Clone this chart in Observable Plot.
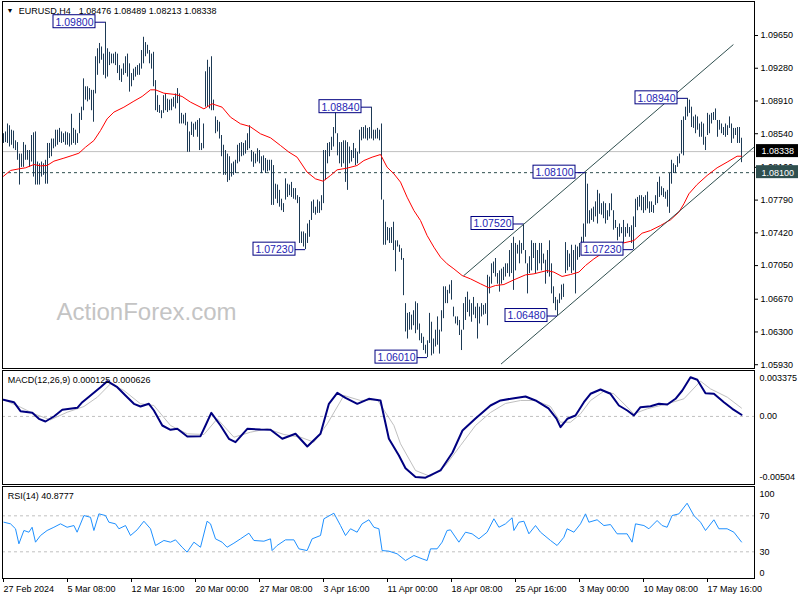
<!DOCTYPE html>
<html><head><meta charset="utf-8">
<script src="https://cdn.jsdelivr.net/npm/d3@7"></script>
<script src="https://cdn.jsdelivr.net/npm/@observablehq/plot@0.6"></script>
<style>
html,body{margin:0;padding:0;background:#fff;}
#chart{position:relative;width:800px;height:600px;overflow:hidden;background:#fff;}
#chart svg{position:absolute;left:0;}
</style></head><body><div id="chart"></div>
<script>
// ---------- DATA ----------
const symbol = "EURUSD,H4";
const ohlcText = "1.08476 1.08489 1.08213 1.08338";
const lastClose = 1.08338;
const keyLevel = 1.081;
const priceTicks = [1.0593, 1.0630, 1.0667, 1.0705, 1.0742, 1.0779, 1.0816, 1.0854, 1.0891, 1.0928, 1.0965];
const dateIdx = [0, 32, 64, 96, 128, 160, 192, 224, 256, 288, 320, 352];
const dateLabels = ["27 Feb 2024", "5 Mar 08:00", "12 Mar 16:00", "20 Mar 00:00", "27 Mar 08:00", "3 Apr 16:00", "11 Apr 00:00", "18 Apr 08:00", "25 Apr 16:00", "3 May 00:00", "10 May 08:00", "17 May 16:00"];

const highs = [
1.0854,1.0856,1.0865,1.0863,1.0858,1.0857,1.0846,1.0844,1.0831,1.0831,
1.0844,1.0841,1.0835,1.0835,1.0852,1.0855,1.0856,1.0822,1.0820,1.0822,
1.0820,1.0824,1.0843,1.0843,1.0848,1.0848,1.0858,1.0858,1.0860,1.0856,
1.0854,1.0856,1.0855,1.0854,1.0876,1.0860,1.0858,1.0854,1.0877,1.0884,
1.0916,1.0907,1.0907,1.0905,1.0903,1.0903,1.0941,1.0950,1.0956,1.0952,
1.0944,1.0980,1.0950,1.0946,1.0944,1.0944,1.0946,1.0944,1.0931,1.0927,
1.0933,1.0941,1.0944,1.0933,1.0922,1.0927,1.0929,1.0931,1.0933,1.0948,
1.0963,1.0957,1.0954,1.0948,1.0944,1.0946,1.0914,1.0897,1.0886,1.0880,
1.0897,1.0899,1.0893,1.0892,1.0893,1.0895,1.0899,1.0905,1.0899,1.0877,
1.0875,1.0877,1.0867,1.0856,1.0867,1.0865,1.0867,1.0869,1.0871,1.0843,
1.0865,1.0924,1.0937,1.0929,1.0941,1.0892,1.0873,1.0869,1.0867,1.0852,
1.0841,1.0835,1.0831,1.0828,1.0820,1.0822,1.0824,1.0841,1.0843,1.0844,
1.0843,1.0846,1.0854,1.0863,1.0835,1.0833,1.0831,1.0837,1.0835,1.0828,
1.0829,1.0826,1.0824,1.0824,1.0824,1.0818,1.0797,1.0796,1.0790,1.0780,
1.0775,1.0803,1.0797,1.0796,1.0799,1.0792,1.0792,1.0784,1.0782,1.0743,
1.0743,1.0741,1.0752,1.0756,1.0777,1.0779,1.0771,1.0779,1.0777,1.0784,
1.0835,1.0835,1.0843,1.0844,1.0850,1.0861,1.0878,1.0854,1.0844,1.0844,
1.0846,1.0846,1.0844,1.0839,1.0835,1.0843,1.0837,1.0833,1.0858,1.0861,
1.0861,1.0863,1.0860,1.0861,1.0884,1.0858,1.0858,1.0860,1.0858,1.0865,
1.0779,1.0754,1.0748,1.0747,1.0748,1.0754,1.0733,1.0733,1.0728,1.0724,
1.0713,1.0662,1.0651,1.0652,1.0649,1.0654,1.0664,1.0662,1.0639,1.0628,
1.0624,1.0615,1.0620,1.0651,1.0641,1.0622,1.0632,1.0647,1.0632,1.0654,
1.0681,1.0681,1.0677,1.0683,1.0688,1.0658,1.0647,1.0647,1.0643,1.0632,
1.0662,1.0669,1.0675,1.0666,1.0662,1.0669,1.0658,1.0662,1.0658,1.0662,
1.0660,1.0662,1.0694,1.0692,1.0707,1.0709,1.0713,1.0696,1.0699,1.0701,
1.0703,1.0707,1.0707,1.0722,1.0730,1.0737,1.0730,1.0728,1.0733,1.0730,
1.0752,1.0722,1.0707,1.0715,1.0733,1.0730,1.0730,1.0722,1.0730,1.0730,
1.0718,1.0711,1.0722,1.0733,1.0707,1.0681,1.0669,1.0666,1.0673,1.0683,
1.0684,1.0731,1.0722,1.0718,1.0728,1.0722,1.0728,1.0726,1.0730,1.0737,
1.0752,1.0810,1.0797,1.0767,1.0769,1.0771,1.0777,1.0790,1.0786,1.0775,
1.0777,1.0775,1.0767,1.0775,1.0786,1.0767,1.0756,1.0748,1.0752,1.0748,
1.0756,1.0748,1.0752,1.0748,1.0750,1.0760,1.0780,1.0782,1.0784,1.0784,
1.0782,1.0784,1.0788,1.0777,1.0777,1.0773,1.0784,1.0799,1.0805,1.0794,
1.0792,1.0788,1.0790,1.0809,1.0824,1.0820,1.0818,1.0828,1.0831,1.0869,
1.0873,1.0884,1.0894,1.0892,1.0884,1.0873,1.0875,1.0873,1.0865,1.0867,
1.0865,1.0850,1.0877,1.0875,1.0877,1.0878,1.0882,1.0869,1.0869,1.0865,
1.0861,1.0865,1.0863,1.0873,1.0865,1.0860,1.0860,1.0861,1.0861,1.08489];

const lows = [
1.0843,1.0844,1.0843,1.0839,1.0841,1.0837,1.0835,1.0824,1.0796,1.0816,
1.0816,1.0824,1.0824,1.0816,1.0822,1.0805,1.0796,1.0796,1.0796,1.0805,
1.0807,1.0797,1.0797,1.0826,1.0828,1.0837,1.0839,1.0841,1.0844,1.0843,
1.0844,1.0841,1.0841,1.0839,1.0841,1.0843,1.0841,1.0843,1.0854,1.0869,
1.0880,1.0892,1.0890,1.0892,1.0880,1.0867,1.0899,1.0920,1.0933,1.0937,
1.0920,1.0916,1.0918,1.0931,1.0933,1.0933,1.0931,1.0922,1.0914,1.0912,
1.0920,1.0922,1.0918,1.0901,1.0907,1.0914,1.0918,1.0920,1.0920,1.0927,
1.0933,1.0941,1.0944,1.0933,1.0927,1.0907,1.0880,1.0878,1.0877,1.0871,
1.0877,1.0880,1.0878,1.0880,1.0880,1.0884,1.0882,1.0888,1.0865,1.0865,
1.0865,1.0863,1.0833,1.0833,1.0852,1.0850,1.0858,1.0850,1.0835,1.0835,
1.0837,1.0884,1.0884,1.0882,1.0880,1.0880,1.0854,1.0856,1.0848,1.0828,
1.0807,1.0807,1.0799,1.0801,1.0805,1.0807,1.0809,1.0820,1.0822,1.0828,
1.0829,1.0831,1.0835,1.0837,1.0822,1.0816,1.0820,1.0822,1.0820,1.0809,
1.0812,1.0809,1.0811,1.0812,1.0773,1.0773,1.0780,1.0775,1.0771,1.0767,
1.0765,1.0779,1.0782,1.0784,1.0782,1.0780,1.0779,1.0775,1.0730,1.0730,
1.0726,1.0723,1.0730,1.0737,1.0756,1.0764,1.0762,1.0764,1.0764,1.0767,
1.0775,1.0801,1.0820,1.0828,1.0835,1.0839,1.0854,1.0829,1.0820,1.0816,
1.0820,1.0799,1.0790,1.0820,1.0822,1.0826,1.0818,1.0820,1.0831,1.0846,
1.0848,1.0848,1.0846,1.0848,1.0848,1.0846,1.0848,1.0848,1.0846,1.0779,
1.0728,1.0728,1.0733,1.0730,1.0730,1.0722,1.0698,1.0726,1.0720,1.0711,
1.0671,1.0630,1.0622,1.0632,1.0632,1.0637,1.0628,1.0632,1.0620,1.0617,
1.0609,1.0605,1.0601,1.0617,1.0603,1.0605,1.0613,1.0615,1.0605,1.0630,
1.0645,1.0662,1.0662,1.0673,1.0666,1.0647,1.0639,1.0637,1.0626,1.0609,
1.0632,1.0643,1.0652,1.0647,1.0641,1.0649,1.0645,1.0622,1.0639,1.0647,
1.0649,1.0650,1.0637,1.0673,1.0684,1.0696,1.0692,1.0684,1.0675,1.0684,
1.0688,1.0692,1.0696,1.0692,1.0696,1.0677,1.0699,1.0718,1.0707,1.0718,
1.0722,1.0707,1.0673,1.0696,1.0699,1.0713,1.0696,1.0699,1.0707,1.0699,
1.0707,1.0684,1.0696,1.0692,1.0673,1.0662,1.0654,1.0648,1.0662,1.0666,
1.0669,1.0696,1.0699,1.0703,1.0696,1.0699,1.0673,1.0711,1.0714,1.0722,
1.0726,1.0737,1.0752,1.0752,1.0756,1.0754,1.0760,1.0752,1.0763,1.0762,
1.0758,1.0752,1.0756,1.0760,1.0767,1.0745,1.0747,1.0733,1.0737,1.0741,
1.0730,1.0737,1.0741,1.0737,1.0730,1.0723,1.0748,1.0767,1.0771,1.0767,
1.0764,1.0767,1.0769,1.0764,1.0765,1.0764,1.0773,1.0775,1.0782,1.0784,
1.0782,1.0780,1.0771,1.0764,1.0797,1.0809,1.0809,1.0816,1.0820,1.0831,
1.0829,1.0869,1.0873,1.0877,1.0861,1.0860,1.0854,1.0858,1.0850,1.0850,
1.0841,1.0835,1.0852,1.0854,1.0865,1.0869,1.0869,1.0850,1.0858,1.0854,
1.0852,1.0850,1.0852,1.0860,1.0843,1.0848,1.0852,1.0843,1.0843,1.08213];

// moving average (bar index, price)
const maPts = [[0,1.0806],[3.5,1.08125],[7.7,1.08143],[11,1.08155],[15.2,1.08192],[18.5,1.08177],[21.8,1.08181],[25.2,1.0823],[30.2,1.08264],[34.3,1.08294],[37.7,1.0832],[41,1.08388],[45.2,1.08463],[48.5,1.08576],[51.8,1.08708],[55.2,1.08784],[60.2,1.0884],[65.2,1.08908],[69.3,1.08961],[73.5,1.09036],[76,1.09036],[80.2,1.08998],[86,1.08983],[89.3,1.08961],[93.5,1.08897],[100.2,1.08821],[104.3,1.08878],[109.3,1.0884],[113.5,1.08727],[118.5,1.08652],[123.2,1.08622],[128.5,1.08539],[133.5,1.08494],[138.5,1.08407],[142.7,1.08332],[146.8,1.08275],[151.8,1.08106],[156,1.0803],[159.8,1.08004],[163.5,1.08068],[166.8,1.08132],[171.8,1.08151],[176.8,1.08181],[180.2,1.08237],[184.3,1.08275],[188.5,1.08305],[191.8,1.08162],[195.2,1.08087],[198.5,1.07993],[201.8,1.07823],[205.2,1.07672],[208.5,1.07559],[211.8,1.0739],[215.2,1.07258],[218.5,1.07145],[221.8,1.0707],[225.2,1.07013],[229.3,1.06938],[233.5,1.069],[238.5,1.06844],[242.7,1.06799],[246,1.06825],[250.2,1.06836],[255.2,1.06889],[261,1.06945],[265.2,1.06957],[271.8,1.06994],[275.2,1.06976],[279.3,1.06927],[283.5,1.06949],[287.7,1.06976],[291,1.07051],[295.2,1.07126],[300.2,1.07202],[305.2,1.07277],[310.2,1.07307],[315.2,1.07333],[319.3,1.07416],[323.5,1.07446],[328.5,1.07503],[333.5,1.07567],[337.7,1.07654],[340.2,1.07748],[342.7,1.07861],[346.8,1.07966],[351.8,1.08068],[356.8,1.08155],[361.8,1.08219],[366.8,1.08286],[369,1.08286]];

// channel trend lines (bar index, price)
const channelUpper = [[230.2, 1.06938], [364.8, 1.09545]];
const channelLower = [[248.9, 1.0594], [375.5, 1.08393]];

// swing labels
const labelIdx = [51, 151, 184, 212, 260, 277, 291, 315, 342];
const labelPrice = [1.098, 1.0723, 1.0884, 1.0601, 1.0752, 1.0648, 1.081, 1.0723, 1.0894];

// MACD(12,26,9)
const macdTitle = "MACD(12,26,9) 0.000125 0.000626";
const macdPts = [[0,0.001249],[5.2,0.001068],[8.5,0.000392],[14.4,0.000272],[17.7,-0.000179],[21,-0.000382],[25.2,-0.000006],[29.4,0.000498],[36.9,0.000648],[39.4,0.001068],[43.5,0.001572],[48.5,0.002195],[51.9,0.002646],[56.9,0.002195],[61,0.001572],[65.2,0.000948],[68.5,0.000745],[72.7,0.000948],[75.2,0.000445],[79.4,-0.000682],[83.5,-0.001005],[86.9,-0.00093],[91.9,-0.001508],[98.5,-0.001486],[101,-0.000682],[103.9,0.000272],[108.5,-0.000682],[112.7,-0.001681],[116,-0.001937],[121.9,-0.00093],[128.5,-0.000983],[133.5,-0.001005],[139.4,-0.001681],[146,-0.001306],[151.9,-0.00226],[158.5,-0.001306],[162.7,0.000948],[166.9,0.001775],[171,0.001399],[176.9,0.000948],[182.7,0.001324],[188.5,0.001196],[192.7,-0.001681],[197.7,-0.002936],[201,-0.0039],[206,-0.00455],[211,-0.0046],[218.5,-0.00406],[224.5,-0.00271],[229.5,-0.00106],[236,-0.00016],[243.5,0.00082],[248.5,0.0012],[254.5,0.00135],[261,0.0015],[266,0.0012],[272.5,0.0006],[276.5,-0.00016],[278.5,-0.00081],[281.9,-0.000179],[286,0.000069],[290.2,0.001068],[293.5,0.0017],[298.5,0.002023],[303.5,0.0017],[307.7,0.000821],[311.9,0.000445],[315.2,0.000069],[318.5,0.000693],[323.5,0.000768],[327.7,0.000948],[331.9,0.000896],[336,0.001324],[339.4,0.001948],[343.5,0.002947],[346.9,0.002751],[351,0.001745],[355.2,0.0017],[360.2,0.001068],[364.4,0.000573],[369,0.000125]];
const signalPts = [[0,0.001249],[8.5,0.000693],[15.2,0.000197],[23.5,-0.000254],[31.9,0.000317],[40.2,0.000745],[46.9,0.001444],[53.5,0.002451],[60.2,0.001948],[68.5,0.000948],[75.2,0.000821],[83.5,-0.000682],[91.9,-0.001306],[100.2,-0.001358],[106.9,-0.000179],[115.2,-0.001561],[123.5,-0.001185],[131.9,-0.00093],[140.2,-0.001358],[148.5,-0.001561],[155.2,-0.001937],[161.9,-0.000554],[170.2,0.001572],[178.5,0.001196],[186.9,0.001249],[195.2,-0.000682],[198.5,-0.002057],[206,-0.004063],[213.5,-0.004514],[221,-0.003688],[228.5,-0.002185],[236,-0.000682],[243.5,0.000295],[251,0.000971],[258.5,0.001196],[266,0.001196],[273.5,0.000745],[278.5,-0.000434],[283.5,-0.000434],[288.5,0.000197],[293.5,0.001196],[300.2,0.001895],[305.2,0.0017],[315.2,0.000197],[321.9,0.000573],[331.9,0.000948],[340.2,0.001324],[348.5,0.002646],[353.5,0.00207],[361.9,0.001444],[369,0.000626]];
const macdTicks = [0.003375, 0, -0.00504];

// RSI(14)
const rsiTitle = "RSI(14) 40.8777";
const rsiPts = [[0.2,62.9],[3.5,61.1],[6,55.6],[7.7,38.9],[10.2,53.7],[12.7,51.8],[14.3,57.3],[16,40.7],[18.5,48.1],[21.8,53.7],[25.2,57.3],[28.5,61.1],[31.8,57.3],[35.2,59.2],[36.8,51.8],[40.2,70.3],[43.5,68.4],[45.2,53.7],[47.7,72.2],[51,70.3],[52.7,62.9],[56,61.1],[57.7,55.6],[61,59.2],[63.5,48.1],[66.8,54.4],[70.2,64],[73.5,55.6],[76,37],[80.2,42.6],[83.5,40.7],[86,43.3],[89.3,35.1],[91.8,29.6],[95.2,40.7],[98.5,35.1],[101.8,64],[103.5,61.1],[106,44.4],[109.3,40.7],[111.8,35.1],[115.2,39.6],[118.5,44.4],[122.7,50.7],[125.2,42.6],[130.2,41.8],[133.5,44.4],[134.3,31.4],[136.8,37],[141,43.3],[145.2,43.3],[147.7,33.3],[151.8,31.4],[154.3,44.4],[158.5,48.1],[160.2,66.7],[165.2,72.9],[168.5,59.2],[171,48.1],[173.5,55.6],[176.8,51.8],[179.3,61.1],[182.7,65.6],[185.2,57.3],[187.7,55.6],[189.3,31.4],[192.7,30.7],[196.8,27.8],[201,20.3],[205.2,25.9],[209.3,22.2],[211.8,20.3],[213.5,33.3],[216.8,33.3],[219.3,40.7],[221.8,53.7],[223.5,54.4],[227.7,40.7],[231,51.8],[234.3,50],[237.7,44.4],[241.8,51.8],[245.2,66.7],[247.7,57.3],[251,61.1],[254.3,67.8],[255.2,53.7],[257.7,62.9],[260.2,64],[262.7,50],[266,59.2],[268.5,51.8],[273.5,42.6],[276.8,37],[280.2,46.2],[281.8,55.6],[285.2,51.8],[288.5,61.1],[291,72.2],[292.7,62.9],[296.8,65.6],[300.2,59.2],[303.5,60.3],[306.8,50],[311.8,50],[314.3,40.7],[316,61.1],[320.2,59.2],[322.7,55.6],[326.8,64.8],[329.3,59.2],[331.8,57.3],[334.3,70.3],[337.7,72.2],[341.8,84],[345.2,70.3],[348.5,62.9],[351,53.7],[355.2,65.6],[357.7,55.6],[361.8,55.6],[365.2,51.8],[369,40.9]];
const rsiLevels = [70, 30];

// ---------- DRAW ----------
const FONT = "'Liberation Sans', Arial, Helvetica, sans-serif";
const BAR = "#1d3a55", NAVY = "#000080", SLATE = "#2f4f4f", SILVER = "#c0c0c0";
const xDomain = [-0.5, 375.5];
const xEdge = 375.5;
const bars = highs.map((h, i) => ({i, h, l: lows[i]}));
const toObj = (pts) => pts.map(([i, v]) => ({i, v}));
const labels = labelIdx.map((i, k) => ({i, p: labelPrice[k]}));
const baseStyle = {fontFamily: FONT, fontSize: "9px", background: "transparent", color: "black", overflow: "visible"};
const root = document.getElementById("chart");

function place(svg, top) { svg.style.top = top + "px"; root.appendChild(svg); }

const main = Plot.plot({
  width: 800, height: 370,
  marginLeft: 2, marginRight: 46, marginTop: 1, marginBottom: 2,
  style: baseStyle,
  x: {domain: xDomain, axis: null},
  y: {domain: [1.058871, 1.100342], axis: "right", ticks: priceTicks, tickFormat: d => d.toFixed(5), tickSize: 3, tickPadding: 3, label: null},
  marks: [
    Plot.text(["ActionForex.com"], {frameAnchor: "top-left", textAnchor: "start", lineAnchor: "middle", dx: 54, dy: 311.3, fontSize: 24, fill: "#c4c4c4"}),
    Plot.ruleY([lastClose], {stroke: SILVER}),
    Plot.ruleY([keyLevel], {stroke: SLATE, strokeDasharray: "3,3"}),
    Plot.ruleX(bars, {x: "i", y1: "l", y2: "h", stroke: BAR, strokeWidth: 1}),
    Plot.line(toObj(maPts), {x: "i", y: "v", stroke: "red", strokeWidth: 1}),
    Plot.line(toObj(channelUpper), {x: "i", y: "v", stroke: SLATE, strokeWidth: 1}),
    Plot.line(toObj(channelLower), {x: "i", y: "v", stroke: SLATE, strokeWidth: 1}),
    Plot.ruleY(labels, {x1: "i", x2: "i", y: "p", insetLeft: -10, stroke: NAVY}),
    Plot.rect(labels, {x1: "i", x2: "i", y1: "p", y2: "p", insetLeft: -52, insetRight: 10, insetTop: -7, insetBottom: -6, fill: "white", stroke: NAVY}),
    Plot.text(labels, {x: "i", y: "p", dx: -31, text: d => d.p.toFixed(5), fill: "#2424b4", fontSize: 10.5, lineAnchor: "middle"}),
    Plot.frame({stroke: "black"}),
    Plot.rect([lastClose], {x1: () => xEdge, x2: () => xEdge, y1: d => d, y2: d => d, insetLeft: 2, insetRight: -44, insetTop: -7, insetBottom: -6, fill: "black"}),
    Plot.text([lastClose], {x: () => xEdge, y: d => d, dx: 7, textAnchor: "start", lineAnchor: "middle", fill: "white", text: d => d.toFixed(5)}),
    Plot.rect([keyLevel], {x1: () => xEdge, x2: () => xEdge, y1: d => d, y2: d => d, insetLeft: 2, insetRight: -44, insetTop: -7, insetBottom: -6, fill: SLATE}),
    Plot.text([keyLevel], {x: () => xEdge, y: d => d, dx: 7, textAnchor: "start", lineAnchor: "middle", fill: "white", text: d => d.toFixed(5)}),
    Plot.text(["\u25BC"], {frameAnchor: "top-left", textAnchor: "start", lineAnchor: "middle", dx: 4, dy: 9.4, fontSize: 7, fill: "black"}),
    Plot.text([symbol], {frameAnchor: "top-left", textAnchor: "start", lineAnchor: "middle", dx: 16.3, dy: 9.4, fontSize: 9, fill: "black"}),
    Plot.text([ohlcText], {frameAnchor: "top-left", textAnchor: "start", lineAnchor: "middle", dx: 76.3, dy: 9.4, fontSize: 9, fill: "black"})
  ]
});
place(main, 0);

const macd = Plot.plot({
  width: 800, height: 117,
  marginLeft: 2, marginRight: 46, marginTop: 1, marginBottom: 2,
  style: baseStyle,
  x: {domain: xDomain, axis: null},
  y: {domain: [-0.005115, 0.00345], axis: null},
  marks: [
    Plot.ruleY([0], {stroke: SILVER, strokeDasharray: "3,3"}),
    Plot.line(toObj(signalPts), {x: "i", y: "v", stroke: SILVER, strokeWidth: 1}),
    Plot.line(toObj(macdPts), {x: "i", y: "v", stroke: NAVY, strokeWidth: 2}),
    Plot.frame({stroke: "black"}),
    Plot.text([macdTitle], {frameAnchor: "top-left", textAnchor: "start", lineAnchor: "middle", dx: 5.3, dy: 10.1, fontSize: 9, fill: "black"}),
    Plot.text([macdTicks[0]], {x: () => xEdge, y: d => d, dx: 5, dy: 7, textAnchor: "start", lineAnchor: "middle", text: d => d.toFixed(6)}),
    Plot.text([macdTicks[1]], {x: () => xEdge, y: d => d, dx: 5, textAnchor: "start", lineAnchor: "middle", text: d => d.toFixed(2)}),
    Plot.text([macdTicks[2]], {x: () => xEdge, y: d => d, dx: 5, dy: -6, textAnchor: "start", lineAnchor: "middle", text: d => d.toFixed(5)})
  ]
});
place(macd, 369);

const rsi = Plot.plot({
  width: 800, height: 115,
  marginLeft: 2, marginRight: 46, marginTop: 1, marginBottom: 22,
  style: baseStyle,
  x: {domain: xDomain, axis: null},
  y: {domain: [0.33, 102.6], axis: null},
  marks: [
    Plot.ruleY(rsiLevels, {stroke: SILVER, strokeDasharray: "3,3"}),
    Plot.line(toObj(rsiPts), {x: "i", y: "v", stroke: "#1e90ff", strokeWidth: 1}),
    Plot.frame({stroke: "black"}),
    Plot.text([rsiTitle], {frameAnchor: "top-left", textAnchor: "start", lineAnchor: "middle", dx: 5.3, dy: 9.6, fontSize: 9, fill: "black"}),
    Plot.text([100], {x: () => xEdge, y: d => d, dx: 5, dy: 5, textAnchor: "start", lineAnchor: "middle", text: d => String(d)}),
    Plot.text(rsiLevels, {x: () => xEdge, y: d => d, dx: 5, textAnchor: "start", lineAnchor: "middle", text: d => String(d)}),
    Plot.text([0], {x: () => xEdge, y: d => d, dx: 5, dy: -6, textAnchor: "start", lineAnchor: "middle", text: d => String(d)}),
    Plot.ruleX(dateIdx, {x: d => d, insetTop: 92, insetBottom: -4, stroke: "black"}),
    Plot.text(dateIdx, {x: d => d, text: (d, k) => dateLabels[k], frameAnchor: "bottom", textAnchor: "start", lineAnchor: "middle", dy: 11.1, fontSize: 9, fill: "black"})
  ]
});
place(rsi, 485);
</script></body></html>
